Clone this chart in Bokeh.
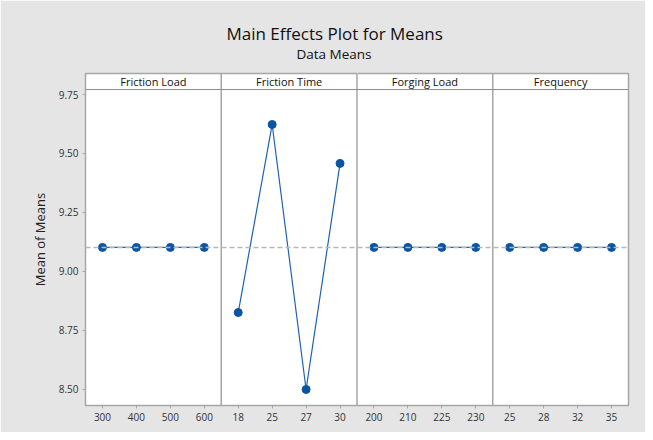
from bokeh.plotting import figure
from bokeh.models import Range1d, FixedTicker, Label, Span, Title, LinearAxis
from bokeh.embed import file_html
from bokeh.resources import INLINE

factors = ["Friction Load", "Friction Time", "Forging Load", "Frequency"]
levels = [["300", "400", "500", "600"],
          ["18", "25", "27", "30"],
          ["200", "210", "225", "230"],
          ["25", "28", "32", "35"]]
friction_load = [9.102, 9.102, 9.102, 9.102]
friction_time = [8.826, 9.623, 8.500, 9.458]
forging_load = [9.102, 9.102, 9.102, 9.102]
frequency = [9.102, 9.102, 9.102, 9.102]
series = [friction_load, friction_time, forging_load, frequency]
grand_mean = 9.102
y_ticks = [8.50, 8.75, 9.00, 9.25, 9.50, 9.75]

FONT = "Open Sans"
GREY = "#e5e5e5"
y_bottom, y_header, y_top = 8.432, 9.771, 9.839

p = figure(width=645, height=432, output_backend="svg", toolbar_location=None,
           x_range=Range1d(0, 16), y_range=Range1d(y_bottom, y_top),
           min_border_left=85, min_border_right=17, min_border_top=73,
           min_border_bottom=27)
p.title.visible = False
p.border_fill_color = GREY
p.background_fill_color = "white"
p.outline_line_color = "#a6a6a6"
p.outline_line_width = 1.5
p.xgrid.visible = False
p.ygrid.visible = False

p.yaxis.ticker = FixedTicker(ticks=y_ticks)
p.yaxis.major_label_overrides = {t: f"{t:.2f}" for t in y_ticks}
xt = [4 * i + j + 0.5 for i in range(4) for j in range(4)]
p.xaxis.ticker = FixedTicker(ticks=xt)
p.xaxis.major_label_overrides = {4 * i + j + 0.5: levels[i][j] for i in range(4) for j in range(4)}
for ax in (p.xaxis, p.yaxis):
    ax.axis_line_color = None
    ax.major_tick_line_color = "#a6a6a6"
    ax.major_tick_out = 3
    ax.major_tick_in = 0
    ax.minor_tick_line_color = None
    ax.major_label_text_font = FONT
    ax.major_label_text_font_size = "10px"
    ax.major_label_text_color = "#333333"
    ax.major_label_standoff = 4
p.yaxis.axis_label = "Mean of Means"
p.yaxis.axis_label_text_font = FONT
p.yaxis.axis_label_text_font_size = "13px"
p.yaxis.axis_label_text_font_style = "normal"
p.yaxis.axis_label_text_color = "#222222"
p.yaxis.axis_label_standoff = 7

# spacer axis (background-coloured tick) between the frame and the subtitle
spacer = LinearAxis(ticker=FixedTicker(ticks=[8]), major_tick_out=11, major_tick_in=0,
                    axis_line_color=None, major_tick_line_color=GREY,
                    minor_tick_line_color=None, major_label_text_font_size="0px",
                    major_label_standoff=0, major_label_overrides={8: ""})
p.add_layout(spacer, "above")

p.add_layout(Span(location=grand_mean, dimension="width", line_color="#b8b8b8",
                  line_dash="5 3", line_width=1.5))

for i in range(4):
    xs = [4 * i + j + 0.5 for j in range(4)]
    p.line(xs, series[i], line_color="#1f62b0", line_width=1.2)
    p.scatter(xs, series[i], size=8, color="#0a55a3")

for i in range(1, 4):
    p.segment(x0=[4 * i], y0=[y_bottom], x1=[4 * i], y1=[y_top],
              line_color="#a6a6a6", line_width=1.5)
p.segment(x0=[0], y0=[y_header], x1=[16], y1=[y_header], line_color="#8c8c8c", line_width=1)

for i, name in enumerate(factors):
    p.add_layout(Label(x=4 * i + 2, y=(y_header + y_top) / 2, text=name,
                       text_align="center", text_baseline="middle",
                       text_font=FONT, text_font_size="11px", text_color="#111111"))

p.add_layout(Title(text="Data Means", align="left", offset=211, text_font=FONT,
                   text_font_size="13.5px", text_font_style="normal",
                   text_color="#111111", standoff=0), "above")
p.add_layout(Title(text="Main Effects Plot for Means", align="left", offset=141,
                   text_font=FONT, text_font_size="17px", text_font_style="normal",
                   text_color="#111111", standoff=-4), "above")

open("out.html", "w").write(file_html(p, INLINE))
